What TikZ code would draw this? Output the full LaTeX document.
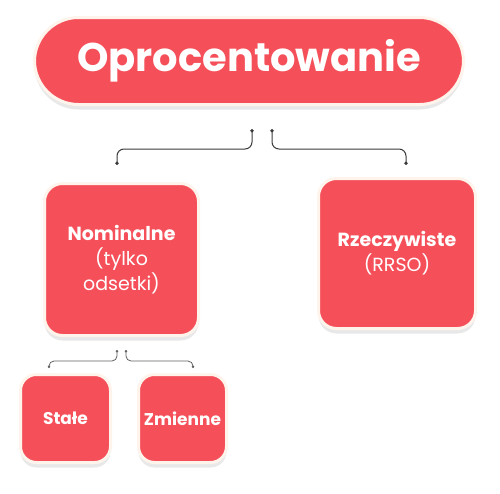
\documentclass[tikz,border=0pt]{standalone}
\usepackage{fontspec}
\setmainfont{Poppins}
\usepackage{xcolor}
\usepackage{tikz}
\usetikzlibrary{positioning, arrows.meta, shadows, calc}

\definecolor{boxred}{HTML}{F5505A}
\definecolor{boxrim}{HTML}{FFF4EC}
\definecolor{linkgray}{HTML}{3A3A3A}

\begin{document}
\begin{tikzpicture}[
    x=1pt, y=-1pt,
    head/.style={rectangle, draw=boxrim, line width=3pt, fill=boxred, rounded corners=44pt, minimum width=429pt, minimum height=87pt, text=white, font=\fontsize{40}{44}\selectfont\bfseries, drop shadow={opacity=0.18, shadow xshift=0pt, shadow yshift=-5pt}},
    bigbox/.style={rectangle, draw=boxrim, line width=3pt, fill=boxred, rounded corners=18pt, text=white, align=center, font=\fontsize{19}{25}\selectfont, drop shadow={opacity=0.18, shadow xshift=0pt, shadow yshift=-5pt}},
    smallbox/.style={rectangle, draw=boxrim, line width=3pt, fill=boxred, rounded corners=16pt, minimum width=88pt, minimum height=88pt, text=white, font=\fontsize{17}{20}\selectfont\bfseries, drop shadow={opacity=0.18, shadow xshift=0pt, shadow yshift=-5pt}},
    link/.style={draw=linkgray, line width=1pt, rounded corners=7pt, {Circle[length=3.5pt]}-{Circle[length=3.5pt]}},
    sublink/.style={draw=linkgray!80, line width=0.8pt, rounded corners=5pt, {Circle[length=2.5pt]}-{Circle[length=2.5pt]}},
]

\useasboundingbox (0,0) rectangle (500,493);

% Main node
\node[head] (oproc) at (249,61) {Oprocentowanie};

% Second level
\node[bigbox, minimum width=154pt, minimum height=152pt] (nominal) at (121.5,259.5) {\textbf{Nominalne}\\(tylko\\odsetki)};
\node[bigbox, minimum width=157pt, minimum height=150pt] (real) at (397,253.5) {\textbf{Rzeczywiste}\\(RRSO)};

% Third level
\node[smallbox, minimum width=90pt] (fixed) at (65.5,418.5) {Stałe};
\node[smallbox] (variable) at (182.5,418.5) {Zmienne};

% Connector ends
\coordinate (oprocL) at ([xshift=3pt, yshift=-23pt]oproc.south);
\coordinate (oprocR) at ([xshift=23pt, yshift=-23pt]oproc.south);
\coordinate (nominalT) at ([xshift=-4.5pt, yshift=17pt]nominal.north);
\coordinate (realT) at ([xshift=9pt, yshift=12pt]real.north);
\coordinate (nominalL) at ([xshift=-4.5pt, yshift=-13pt]nominal.south);
\coordinate (nominalR) at ([xshift=4.5pt, yshift=-13pt]nominal.south);
\coordinate (fixedT) at ([xshift=-16.5pt, yshift=5pt]fixed.north);
\coordinate (variableT) at ([xshift=10.5pt, yshift=5pt]variable.north);

% Connectors
\draw[link] (oprocL) -- ++(0,20) -| (nominalT);
\draw[link] (oprocR) -- ++(0,20) -| (realT);
\draw[sublink] (nominalL) -- ++(0,11) -| (fixedT);
\draw[sublink] (nominalR) -- ++(0,11) -| (variableT);

\end{tikzpicture}
\end{document}
